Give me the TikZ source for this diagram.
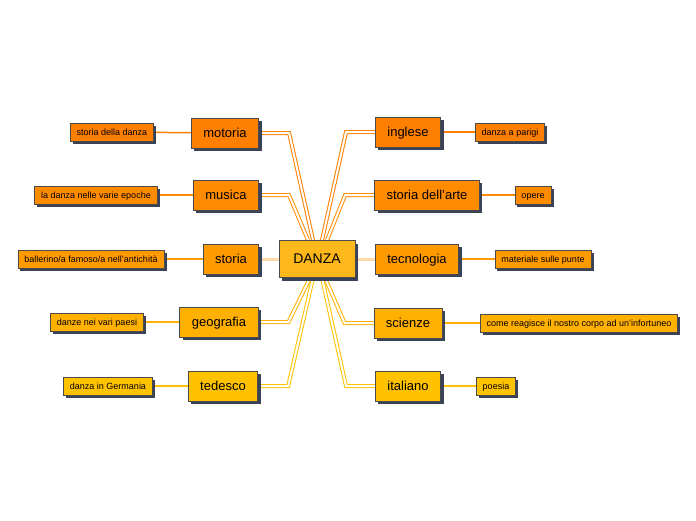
\documentclass[tikz,border=0pt]{standalone}
\usepackage{fontspec}
\setsansfont{Liberation Sans}
\usetikzlibrary{shadows,backgrounds}
\definecolor{rowa}{HTML}{FF7F00}
\definecolor{rowb}{HTML}{FF8C00}
\definecolor{rowc}{HTML}{FF9A00}
\definecolor{rowd}{HTML}{FFB000}
\definecolor{rowe}{HTML}{FFC200}
\definecolor{core}{HTML}{FFB81C}
\definecolor{pale}{HTML}{FFD9A8}
\definecolor{boxline}{HTML}{4A4A4A}
\definecolor{shade}{HTML}{3A4258}
\tikzset{subj/.style={draw=boxline, line width=0.8pt, fill=#1, minimum height=30pt, inner xsep=12pt,
    text height=11pt, text depth=2pt,
    font=\sffamily\fontsize{13}{15}\selectfont,
    drop shadow={shadow xshift=3pt, shadow yshift=-3pt, fill=shade, opacity=1}},
  note/.style={draw=boxline, line width=0.8pt, fill=#1, minimum height=18pt, inner xsep=6.5pt, inner ysep=2pt,
    text height=7.5pt, text depth=1.5pt,
    font=\sffamily\fontsize{9}{11}\selectfont,
    drop shadow={shadow xshift=2.5pt, shadow yshift=-2.5pt, fill=shade, opacity=1}},
  link/.style={draw=#1, line width=1pt, double=white, double distance=2pt},
  twig/.style={draw=#1, line width=1.5pt}}

\begin{document}
\begin{tikzpicture}[x=1pt, y=-1pt, font=\sffamily]
  \useasboundingbox (0,0) rectangle (696,520);
  \node[subj=core, minimum width=76pt, minimum height=37pt, font=\sffamily\fontsize{14}{16}\selectfont] (danza) at (317,259) {DANZA};
  % subjects on the left
  \node[subj=rowa] (mot) at (225,133) {motoria};
  \node[subj=rowb] (mus) at (226,195) {musica};
  \node[subj=rowc] (sto) at (231,259) {storia};
  \node[subj=rowd] (geo) at (219,322) {geografia};
  \node[subj=rowe] (ted) at (223,386) {tedesco};
  % subjects on the right
  \node[subj=rowa] (ing) at (408,132) {inglese};
  \node[subj=rowb] (art) at (427,195) {storia dell'arte};
  \node[subj=rowc] (tec) at (417,259) {tecnologia};
  \node[subj=rowd] (sci) at (408,323) {scienze};
  \node[subj=rowe] (ita) at (408,386) {italiano};
  % notes
  \node[note=rowa] (mot-n) at (112,132) {storia della danza};
  \node[note=rowb] (mus-n) at (96,195) {la danza nelle varie epoche};
  \node[note=rowc] (sto-n) at (91,259) {ballerino/a famoso/a nell'antichità};
  \node[note=rowd] (geo-n) at (97,322) {danze nei vari paesi};
  \node[note=rowe] (ted-n) at (108,386) {danza in Germania};
  \node[note=rowa] (ing-n) at (510,132) {danza a parigi};
  \node[note=rowb] (art-n) at (533,195) {opere};
  \node[note=rowc] (tec-n) at (543,259) {materiale sulle punte};
  \node[note=rowd] (sci-n) at (579,323) {come reagisce il nostro corpo ad un'infortuneo};
  \node[note=rowe] (ita-n) at (496,386) {poesia};
  \begin{pgfonlayer}{background}
    % links to the centre
    \draw[link=rowa] (mot.east) -- ++(30,0) -- ([xshift=-4pt]danza.north);
    \draw[link=rowb] (mus.east) -- ++(30,0) -- ([xshift=-9pt]danza.north);
    \draw[link=rowd] (geo.east) -- ++(30,0) -- ([xshift=-7pt]danza.south);
    \draw[link=rowe] (ted.east) -- ++(30,0) -- ([xshift=-4pt]danza.south);
    \draw[link=rowa] (ing.west) -- ++(-29,0) -- ([xshift=5pt]danza.north);
    \draw[link=rowb] (art.west) -- ++(-29,0) -- ([xshift=10pt]danza.north);
    \draw[link=rowd] (sci.west) -- ++(-29,0) -- ([xshift=8pt]danza.south);
    \draw[link=rowe] (ita.west) -- ++(-29,0) -- ([xshift=5pt]danza.south);
    \draw[pale, line width=3pt] (sto) -- (danza);
    \draw[pale, line width=3pt] (tec) -- (danza);
    % links to the notes
    \draw[twig=rowa] (mot-n) -- (mot);
    \draw[twig=rowb] (mus-n) -- (mus);
    \draw[twig=rowc] (sto-n) -- (sto);
    \draw[twig=rowd] (geo-n) -- (geo);
    \draw[twig=rowe] (ted-n) -- (ted);
    \draw[twig=rowa] (ing) -- (ing-n);
    \draw[twig=rowb] (art) -- (art-n);
    \draw[twig=rowc] (tec) -- (tec-n);
    \draw[twig=rowd] (sci) -- (sci-n);
    \draw[twig=rowe] (ita) -- (ita-n);
  \end{pgfonlayer}
\end{tikzpicture}
\end{document}
